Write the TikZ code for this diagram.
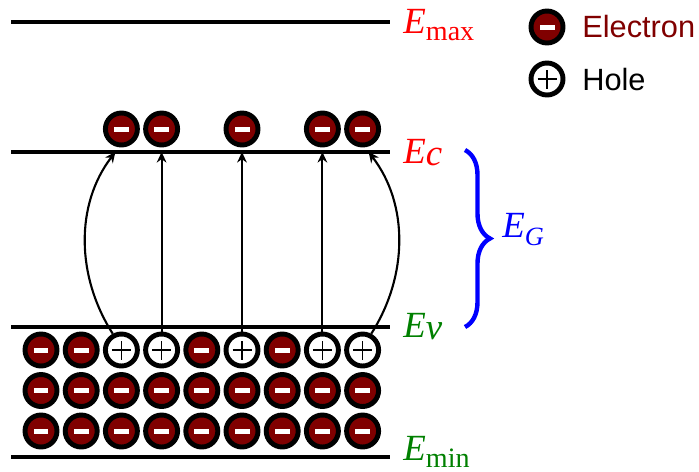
\documentclass[tikz,border=0pt]{standalone}
\usepackage{fontspec}
\setmainfont{Liberation Serif}
\newfontfamily\legendfont{Liberation Sans}
\usetikzlibrary{arrows.meta,calc,decorations.pathreplacing}

\definecolor{elecred}{RGB}{128,0,0}
\definecolor{bandgreen}{RGB}{0,128,0}

\newcommand{\Eup}[1]{\textit{E}\raisebox{-0.2em}{\fontsize{16}{16}\selectfont #1}}
\newcommand{\Eit}[1]{\textit{E}\raisebox{-0.08em}{\textit{#1}}}

\tikzset{
  particle/.style={circle, draw=black, line width=2.8pt,
                   minimum size=0.64cm, inner sep=0pt},
  electron/.style={particle, fill=elecred,
    path picture={\fill[white]
      ([xshift=-0.15cm,yshift=-0.05cm]path picture bounding box.center)
      rectangle
      ([xshift=0.15cm,yshift=0.05cm]path picture bounding box.center);}},
  hole/.style={particle, fill=white,
    path picture={\draw[line width=1pt]
      ([xshift=-0.19cm]path picture bounding box.center) --
      ([xshift=0.19cm]path picture bounding box.center)
      ([yshift=-0.19cm]path picture bounding box.center) --
      ([yshift=0.19cm]path picture bounding box.center);}},
  bandline/.style={line width=2pt},
  jump/.style={-{Stealth[length=6pt,width=5.5pt]}, line width=1.2pt},
  bandlabel/.style={anchor=base west, inner sep=0pt,
                    font=\fontsize{21}{24}\selectfont},
  keylabel/.style={anchor=base west, inner sep=0pt,
                   font=\legendfont\fontsize{17.5}{19}\selectfont},
  gapbrace/.style={decorate, decoration={brace, amplitude=0.5cm},
                   draw=blue, line width=2.5pt},
}

\begin{document}
\begin{tikzpicture}[x=0.02cm, y=-0.02cm]
\useasboundingbox (0,0) rectangle (699,471);

% energy levels
\coordinate (emaxL) at (11,22);  \coordinate (emaxR) at (390,22);
\coordinate (ecL)   at (11,152); \coordinate (ecR)   at (390,152);
\coordinate (evL)   at (11,327); \coordinate (evR)   at (390,327);
\coordinate (eminL) at (11,457); \coordinate (eminR) at (390,457);
\draw[bandline] (emaxL) -- (emaxR);
\draw[bandline] (ecL) -- (ecR);
\draw[bandline] (evL) -- (evR);
\draw[bandline] (eminL) -- (eminR);

\node[bandlabel, text=red] (lmax) at ($(emaxR)+(13,11)$) {\Eup{max}};
\node[bandlabel, text=red] (lc) at ($(ecR)+(13,11)$) {\Eit{c}};
\node[bandlabel, text=bandgreen] (lv) at ($(evR)+(13,10)$) {\Eit{v}};
\node[bandlabel, text=bandgreen] (lmin) at ($(eminR)+(13,3)$) {\Eup{min}};

% valence band
\foreach \i/\kind in {1/electron,2/electron,3/hole,4/hole,5/electron,
                      6/hole,7/electron,8/hole,9/hole}
  \node[\kind] (v\i) at ({41+40.2*(\i-1)},350) {};
\foreach \i in {1,...,9} {
  \node[electron] (m\i) at ({41+40.2*(\i-1)},390.5) {};
  \node[electron] (b\i) at ({41+40.2*(\i-1)},431) {};
}

% conduction band
\foreach \i in {3,4,6,8,9}
  \node[electron] (c\i) at ({41+40.2*(\i-1)},129) {};

% excitations
\foreach \i in {4,6,8}
  \draw[jump] (v\i) -- (v\i |- ecL);
\draw[jump] (v3.118) .. controls +(-37,-58) and +(-40,52) ..
  ([xshift=-0.12cm]v3 |- ecL);
\draw[jump] (v9.62) .. controls +(37,-58) and +(40,52) ..
  ([xshift=0.12cm]v9 |- ecL);

% band gap
\coordinate (gtop) at (465,150);
\coordinate (gbot) at (465,327);
\draw[gapbrace] (gtop) -- (gbot);
\node[bandlabel, text=blue] (lg) at ($(gtop)!0.5!(gbot)+(37,-1)$)
  {\textit{E}\raisebox{-0.22em}{\fontsize{15}{15}\selectfont\textit{G}}};

% legend
\node[electron] (kel) at (547,27) {};
\node[keylabel, text=elecred] (tel) at (582,37) {Electron};
\node[hole] (kho) at (547,79) {};
\node[keylabel] (tho) at (582,90) {Hole};

\end{tikzpicture}
\end{document}
